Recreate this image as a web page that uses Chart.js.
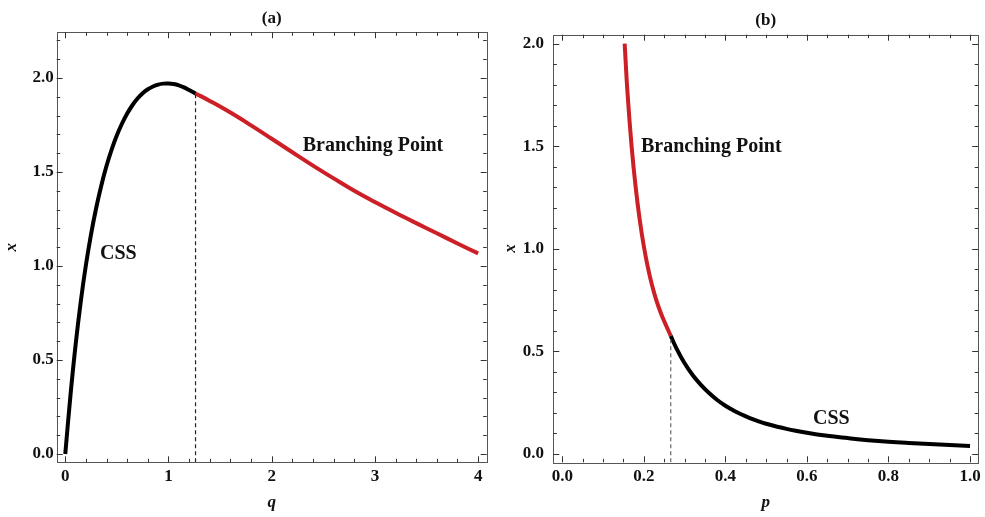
<!DOCTYPE html>
<html>
<head>
<meta charset="utf-8">
<script src="https://cdn.jsdelivr.net/npm/chart.js@4/dist/chart.umd.min.js"></script>
<style>
  body { margin: 0; background: #fff; }
  #wrap { display: flex; width: 985px; height: 517px; }
</style>
</head>
<body>
<div id="wrap">
  <canvas id="chartA" width="492" height="517"></canvas>
  <canvas id="chartB" width="493" height="517"></canvas>
</div>
<script>
// panel (a): x against q
const qCss = [0, 0.05, 0.1, 0.15, 0.2, 0.25, 0.3, 0.35, 0.4, 0.45, 0.5, 0.55, 0.6, 0.65, 0.7, 0.75, 0.8, 0.85, 0.9, 0.95, 1.0, 1.05, 1.1, 1.15, 1.2, 1.262];
const xCssA = [0, 0.31, 0.58, 0.81, 1.005, 1.17, 1.31, 1.43, 1.533, 1.62, 1.695, 1.758, 1.811, 1.855, 1.891, 1.919, 1.94, 1.955, 1.965, 1.97, 1.971, 1.968, 1.961, 1.95, 1.936, 1.918];
const qBranch = [1.262, 1.4, 1.6, 1.8, 2.0, 2.2, 2.4, 2.6, 2.8, 3.0, 3.2, 3.4, 3.6, 3.8, 4.0];
const xBranchA = [1.918, 1.878, 1.816, 1.748, 1.677, 1.605, 1.534, 1.466, 1.400, 1.340, 1.283, 1.228, 1.174, 1.120, 1.067];
const qCritical = 1.262;
const qTicks = [0, 1, 2, 3, 4];

// panel (b): x against p
const pBranch = [0.153, 0.16, 0.17, 0.18, 0.19, 0.2, 0.21, 0.22, 0.23, 0.24, 0.25, 0.266];
const xBranchB = [2.0, 1.76, 1.50, 1.30, 1.14, 1.012, 0.908, 0.823, 0.753, 0.695, 0.646, 0.575];
const pCss = [0.266, 0.28, 0.3, 0.32, 0.34, 0.36, 0.38, 0.4, 0.42, 0.44, 0.46, 0.48, 0.5, 0.55, 0.6, 0.65, 0.7, 0.75, 0.8, 0.85, 0.9, 0.95, 1.0];
const xCssB = [0.575, 0.514, 0.441, 0.383, 0.336, 0.296, 0.262, 0.234, 0.211, 0.191, 0.174, 0.159, 0.146, 0.121, 0.102, 0.087, 0.076, 0.066, 0.058, 0.052, 0.047, 0.042, 0.038];
const pCritical = 0.266;
const pTicks = [0, 0.2, 0.4, 0.6, 0.8, 1.0];

const xTicks = [0, 0.5, 1.0, 1.5, 2.0];

const SERIF = "'Liberation Serif', 'Times New Roman', serif";
const RED = '#cc1f26';

function pts(xs, ys) {
  return xs.map((v, i) => ({ x: v, y: ys[i] }));
}

// Mathematica-like frame with inward ticks on all four sides
const frameTicks = {
  id: 'frameTicks',
  afterDraw(chart, args, opts) {
    const { ctx, chartArea: a, scales } = chart;
    ctx.save();
    ctx.strokeStyle = '#555';
    ctx.lineWidth = 1;
    ctx.strokeRect(Math.round(a.left) + 0.5, Math.round(a.top) + 0.5,
      Math.round(a.right - a.left), Math.round(a.bottom - a.top));
    ctx.strokeStyle = '#333';
    const marks = (scale, major, minorStep) => {
      const out = major.map(v => ({ v, len: 6 }));
      const lo = major[0] - minorStep * 20;
      for (let i = 0; i < 200; i++) {
        const v = +(lo + i * minorStep).toFixed(6);
        if (v < scale.min || v > scale.max) continue;
        if (major.some(m => Math.abs(m - v) < 1e-6)) continue;
        out.push({ v, len: 3.5 });
      }
      return out;
    };
    ctx.beginPath();
    marks(scales.x, opts.xMajor, opts.xMinor).forEach(t => {
      const px = Math.round(scales.x.getPixelForValue(t.v)) + 0.5;
      ctx.moveTo(px, a.bottom); ctx.lineTo(px, a.bottom - t.len);
      ctx.moveTo(px, a.top); ctx.lineTo(px, a.top + t.len);
    });
    marks(scales.y, opts.yMajor, opts.yMinor).forEach(t => {
      const py = Math.round(scales.y.getPixelForValue(t.v)) + 0.5;
      ctx.moveTo(a.left, py); ctx.lineTo(a.left + t.len, py);
      ctx.moveTo(a.right, py); ctx.lineTo(a.right - t.len, py);
    });
    ctx.stroke();
    ctx.restore();
  }
};

// text labels placed in data coordinates
const curveLabels = {
  id: 'curveLabels',
  afterDatasetsDraw(chart, args, opts) {
    const { ctx, scales } = chart;
    ctx.save();
    ctx.font = 'bold 20px ' + SERIF;
    ctx.fillStyle = '#111';
    ctx.textAlign = 'left';
    ctx.textBaseline = 'middle';
    opts.items.forEach(it => {
      ctx.fillText(it.text, scales.x.getPixelForValue(it.x), scales.y.getPixelForValue(it.y));
    });
    ctx.restore();
  }
};

function makeChart(id, cfg) {
  return new Chart(document.getElementById(id), {
    type: 'scatter',
    data: {
      datasets: [
        {
          data: [{ x: cfg.critical, y: cfg.yMin }, { x: cfg.critical, y: cfg.criticalY }],
          showLine: true,
          borderColor: cfg.dashColor,
          borderWidth: 1.2,
          borderDash: [4, 3],
          pointRadius: 0
        },
        {
          data: cfg.black,
          showLine: true,
          borderColor: '#000',
          borderWidth: 4,
          borderCapStyle: 'butt',
          tension: 0.4,
          pointRadius: 0
        },
        {
          data: cfg.red,
          showLine: true,
          borderColor: RED,
          borderWidth: 4,
          borderCapStyle: 'butt',
          tension: 0.4,
          pointRadius: 0
        }
      ]
    },
    options: {
      responsive: false,
      animation: false,
      events: [],
      layout: { padding: { left: 0, right: cfg.padRight, top: 0, bottom: 0 } },
      scales: {
        x: {
          type: 'linear',
          min: cfg.xMin,
          max: cfg.xMax,
          grid: { display: false, drawTicks: false },
          border: { display: false },
          afterBuildTicks: s => { s.ticks = cfg.xMajor.map(v => ({ value: v })); },
          afterFit: s => { s.height = 54.7; },
          ticks: {
            color: '#111',
            padding: 4.2,
            maxRotation: 0,
            autoSkip: false,
            font: { family: SERIF, size: 17, weight: 'bold' },
            callback: cfg.xFormat
          },
          title: {
            display: true,
            text: cfg.xTitle,
            color: '#111',
            padding: { top: 0, bottom: 4.4 },
            font: { family: SERIF, size: 17, weight: 'bold', style: 'italic' }
          }
        },
        y: {
          type: 'linear',
          min: cfg.yMin,
          max: cfg.yMax,
          grid: { display: false, drawTicks: false },
          border: { display: false },
          afterBuildTicks: s => { s.ticks = xTicks.map(v => ({ value: v })); },
          afterFit: s => { s.width = cfg.yWidth; },
          ticks: {
            color: '#111',
            padding: cfg.yPad,
            autoSkip: false,
            font: { family: SERIF, size: 17, weight: 'bold' },
            callback: v => v.toFixed(1)
          },
          title: {
            display: true,
            text: 'x',
            color: '#111',
            padding: { top: cfg.yTitlePad, bottom: 0 },
            font: { family: SERIF, size: 17, weight: 'bold', style: 'italic' }
          }
        }
      },
      plugins: {
        legend: { display: false },
        tooltip: { enabled: false },
        title: {
          display: true,
          text: cfg.title,
          fullSize: false,
          color: '#111',
          padding: cfg.titlePad,
          font: { family: SERIF, size: 17, weight: 'bold' }
        },
        frameTicks: { xMajor: cfg.xMajor, xMinor: cfg.xMinor, yMajor: xTicks, yMinor: 0.1 },
        curveLabels: { items: cfg.labels }
      }
    },
    plugins: [frameTicks, curveLabels]
  });
}

makeChart('chartA', {
  title: '(a)',
  titlePad: { top: 8.8, bottom: 3.1 },
  xTitle: 'q',
  xMin: -0.083, xMax: 4.083,
  yMin: -0.044, yMax: 2.243,
  xMajor: qTicks, xMinor: 0.2,
  xFormat: v => String(v),
  yWidth: 56.7, yPad: 3, yTitlePad: 1.8,
  padRight: 5.3,
  critical: qCritical, criticalY: xCssA[xCssA.length - 1],
  dashColor: '#222',
  black: pts(qCss, xCssA),
  red: pts(qBranch, xBranchA),
  labels: [
    { text: 'CSS', x: 0.336, y: 1.064 },
    { text: 'Branching Point', x: 2.30, y: 1.638 }
  ]
});

makeChart('chartB', {
  title: '(b)',
  titlePad: { top: 10.8, bottom: 3.5 },
  xTitle: 'p',
  xMin: -0.022, xMax: 1.02,
  yMin: -0.042, yMax: 2.044,
  xMajor: pTicks, xMinor: 0.05,
  xFormat: v => v.toFixed(1),
  yWidth: 61.3, yPad: 9.3, yTitlePad: 8.1,
  padRight: 4,
  critical: pCritical, criticalY: xCssB[0],
  dashColor: '#666',
  black: pts(pCss, xCssB),
  red: pts(pBranch, xBranchB),
  labels: [
    { text: 'Branching Point', x: 0.193, y: 1.498 },
    { text: 'CSS', x: 0.615, y: 0.169 }
  ]
});
</script>
</body>
</html>
